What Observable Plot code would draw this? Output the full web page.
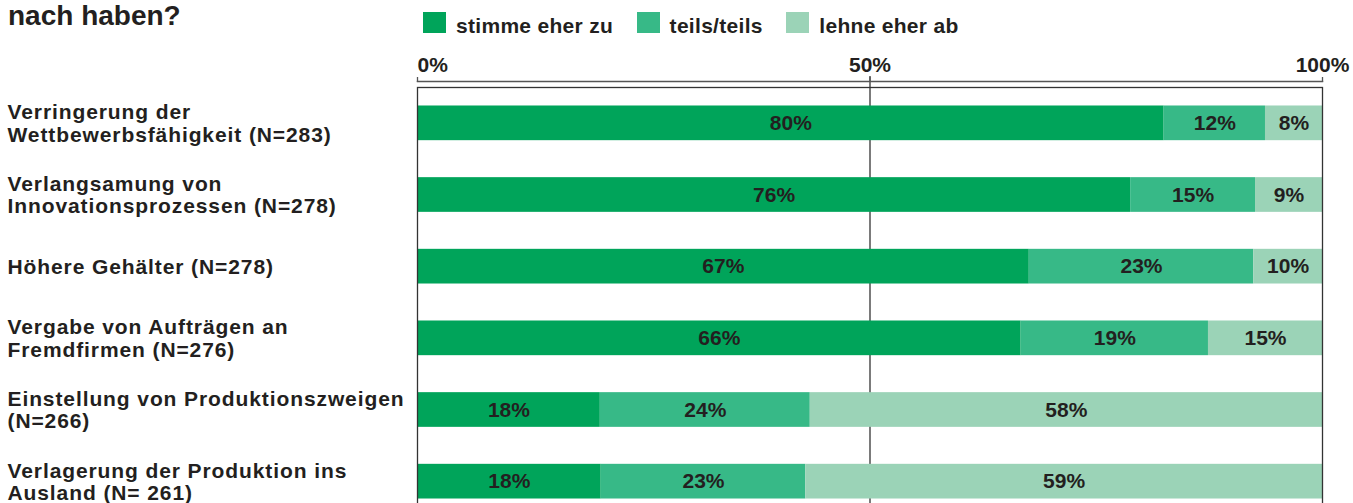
<!DOCTYPE html>
<html>
<head>
<meta charset="utf-8">
<script src="https://cdn.jsdelivr.net/npm/d3@7"></script>
<script src="https://cdn.jsdelivr.net/npm/@observablehq/plot@0.6"></script>
<style>
  html, body { margin: 0; padding: 0; background: #fff; overflow: hidden; }
  body { width: 1353px; height: 503px; font-family: "Liberation Sans", Arial, sans-serif; color: #231f20; }
  #header { position: relative; height: 40px; }
  #title { position: absolute; left: 8px; top: 0px; font-size: 28px; font-weight: bold; line-height: normal; white-space: nowrap; }
  #legend { position: absolute; left: 423px; top: 12px; }
  .lg-swatches { font-family: "Liberation Sans", Arial, sans-serif; font-size: 21px; font-weight: bold; color: #231f20; margin: 0; letter-spacing: 0.3px; }
  .lg-swatches-wrap { min-height: 0; margin: 0; align-items: flex-start; }
  .lg-swatch { margin-right: 23.5px; align-items: baseline; line-height: 21px; }
  .lg-swatch > svg { margin-right: 10px; }
  g[aria-description="row labels"] text { letter-spacing: 0.9px; }
</style>
</head>
<body>
<div id="header">
  <div id="title">nach haben?</div>
  <div id="legend"></div>
</div>
<div id="chart"></div>
<script>
// ---- data ----
const categories = [
  "Verringerung der\nWettbewerbsfähigkeit (N=283)",
  "Verlangsamung von\nInnovationsprozessen (N=278)",
  "Höhere Gehälter (N=278)",
  "Vergabe von Aufträgen an\nFremdfirmen (N=276)",
  "Einstellung von Produktionszweigen\n(N=266)",
  "Verlagerung der Produktion ins\nAusland (N= 261)"
];
const responses = ["stimme eher zu", "teils/teils", "lehne eher ab"];
// segment lengths as drawn in the picture (% of bar)
const agree    = [82.5, 78.8, 67.6, 66.7, 20.2, 20.3];
const neutral  = [11.2, 13.8, 24.8, 20.7, 23.2, 22.6];
const disagree = [ 6.3,  7.4,  7.6, 12.6, 56.6, 57.1];
// printed labels
const agreeLabels    = ["80%", "76%", "67%", "66%", "18%", "18%"];
const neutralLabels  = ["12%", "15%", "23%", "19%", "24%", "23%"];
const disagreeLabels = ["8%", "9%", "10%", "15%", "58%", "59%"];
const xTicks = [0, 50, 100];

const palette = ["#00a45a", "#37b987", "#9bd3b7"];
const ink = "#231f20";
const font = "'Liberation Sans', Arial, sans-serif";

const series = [agree, neutral, disagree];
const seriesLabels = [agreeLabels, neutralLabels, disagreeLabels];
const rows = categories.flatMap((c, i) =>
  responses.map((r, j) => ({cat: c, resp: r, value: series[j][i], label: seriesLabels[j][i]}))
);

const chart = Plot.plot({
  width: 1353,
  height: 477,
  marginLeft: 417,
  marginRight: 31,
  marginTop: 47,
  marginBottom: 0,
  style: {fontFamily: font, fontSize: "21px", fontWeight: "bold", color: ink, background: "#fff", overflow: "visible"},
  x: {domain: [0, 100], axis: null},
  y: {domain: categories, paddingInner: 0.516, paddingOuter: 0.258, round: false, axis: null},
  color: {domain: responses, range: palette},
  marks: [
    Plot.ruleX([50], {insetTop: -11, stroke: "#333", strokeWidth: 1.3}),
    Plot.barX(rows, Plot.stackX({x: "value", y: "cat", fill: "resp"})),
    Plot.frame({stroke: "#333", strokeWidth: 1.3}),
    Plot.frame({anchor: "top", dy: -6, stroke: "#555", strokeWidth: 1.4}),
    Plot.axisX(xTicks, {anchor: "top", tickSize: 5, dy: -6, tickFormat: () => "", label: null, stroke: "#555", strokeWidth: 1.3}),
    Plot.text(xTicks.slice(0, 1), {x: d => d, text: d => d + "%", frameAnchor: "top", lineAnchor: "middle", textAnchor: "start", dy: -22, fill: ink, fontSize: 21, fontWeight: "bold"}),
    Plot.text(xTicks.slice(1), {x: d => d, text: d => d + "%", frameAnchor: "top", lineAnchor: "middle", textAnchor: "middle", dy: -22, fill: ink, fontSize: 21, fontWeight: "bold"}),
    Plot.text(rows, Plot.stackX({x: "value", y: "cat", z: "resp", text: "label", fill: ink, fontSize: 21, fontWeight: "bold"})),
    Plot.text(categories, {y: d => d, text: d => d, frameAnchor: "left", textAnchor: "start", dx: -410, lineHeight: 1.07, fill: ink, fontSize: 21, fontWeight: "bold", ariaDescription: "row labels"})
  ]
});
document.getElementById("chart").appendChild(chart);

const legend = chart.legend("color", {className: "lg", swatchWidth: 23, swatchHeight: 21});
document.getElementById("legend").appendChild(legend);
</script>
</body>
</html>
